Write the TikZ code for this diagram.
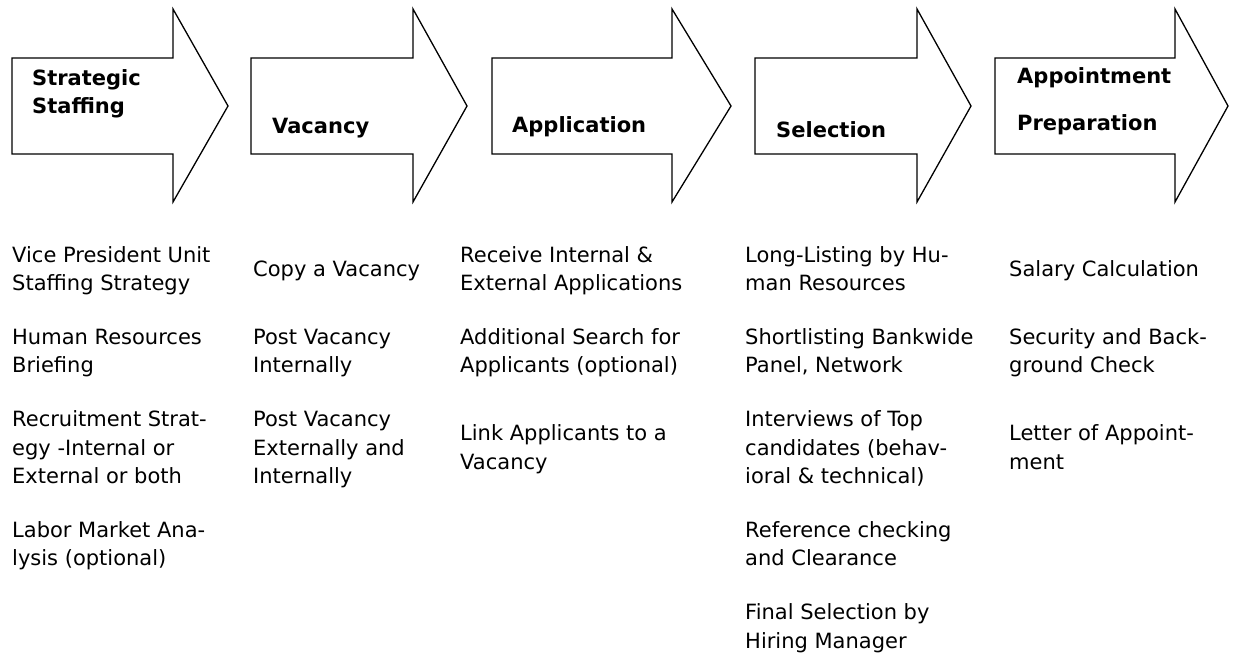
\documentclass[tikz,border=0pt]{standalone}
\usepackage{fontspec}
\setmainfont{DejaVu Sans}
\begin{document}
\begin{tikzpicture}[x=1pt,y=-1pt,
  stagearrow/.style={draw=black,line width=1.3pt,fill=white,line join=miter},
  title/.style={anchor=north west,inner sep=0pt,align=left,font=\fontsize{21}{28.5}\selectfont\bfseries},
  item/.style={anchor=north west,inner sep=0pt,align=left,font=\fontsize{21}{28.5}\selectfont}]
\useasboundingbox (0,0) rectangle (1233,668);
% arrows
\foreach \L/\H/\T in {12/173/228, 251/413/467, 492/672/731, 755/917/971, 995/1175/1228}{
  \draw[stagearrow] (\L,58) -- (\H,58) -- (\H,9) -- (\T,106) -- (\H,202) -- (\H,154) -- (\L,154) -- cycle;
}
% titles
\node[title] (t1) at (32,65.05) {\strut Strategic\\Staffing};
\node[title] (t2) at (272,113.05) {\strut Vacancy};
\node[title] (t3) at (512,112.05) {\strut Application};
\node[title] (t4) at (776,117.05) {\strut Selection};
\node[title] (t5) at (1017,63.05) {\strut Appointment\\[18.5pt]Preparation};
% column 1
\node[item] (a1) at (12,242.05) {\strut Vice President Unit\\Staffing Strategy};
\node[item] (a2) at (12,324.3) {\strut Human Resources\\Briefing};
\node[item] (a3) at (12,406.55) {\strut Recruitment Strat-\\egy -Internal or\\External or both};
\node[item] (a4) at (12,517.3) {\strut Labor Market Ana-\\lysis (optional)};
% column 2
\node[item] (b1) at (253,256.3) {\strut Copy a Vacancy};
\node[item] (b2) at (253,324.3) {\strut Post Vacancy\\Internally};
\node[item] (b3) at (253,406.55) {\strut Post Vacancy\\Externally and\\Internally};
% column 3
\node[item] (c1) at (460,242.05) {\strut Receive Internal \&\\External Applications};
\node[item] (c2) at (460,324.3) {\strut Additional Search for\\Applicants (optional)};
\node[item] (c3) at (460,420.8) {\strut Link Applicants to a\\Vacancy};
% column 4
\node[item] (d1) at (745,242.05) {\strut Long-Listing by Hu-\\man Resources};
\node[item] (d2) at (745,324.3) {\strut Shortlisting Bankwide\\Panel, Network};
\node[item] (d3) at (745,406.55) {\strut Interviews of Top\\candidates (behav-\\ioral \& technical)};
\node[item] (d4) at (745,517.3) {\strut Reference checking\\and Clearance};
\node[item] (d5) at (745,599.55) {\strut Final Selection by\\Hiring Manager};
% column 5
\node[item] (e1) at (1009,256.3) {\strut Salary Calculation};
\node[item] (e2) at (1009,324.3) {\strut Security and Back-\\ground Check};
\node[item] (e3) at (1009,420.8) {\strut Letter of Appoint-\\ment};
\end{tikzpicture}
\end{document}
